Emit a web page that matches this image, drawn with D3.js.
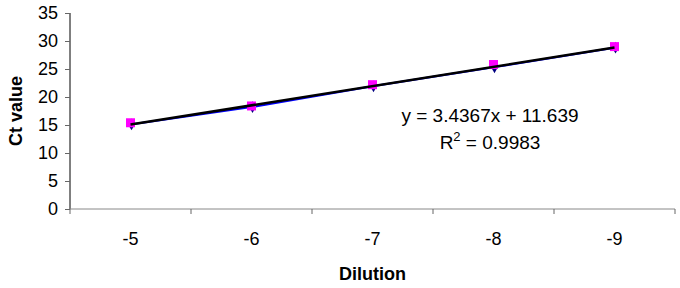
<!DOCTYPE html>
<html>
<head>
<meta charset="utf-8">
<script src="https://cdn.jsdelivr.net/npm/d3@7"></script>
<style>
  body { margin: 0; background: #fff; }
  text { font-family: Arial, "Liberation Sans", sans-serif; }
</style>
</head>
<body>
<svg id="drawing_region"></svg>
<script>
// data
const dilutions = ["-5", "-6", "-7", "-8", "-9"];
const ctBlue = [15.1, 18.2, 21.9, 25.3, 28.8];
const ctMagenta = [15.4, 18.4, 22.2, 25.8, 29.0];
const yTicks = [0, 5, 10, 15, 20, 25, 30, 35];
const slope = 3.4367, intercept = 11.639;
const equationText = "y = 3.4367x + 11.639";
const r2Text = "0.9983";

const width = 680, height = 288;
const margin = {top: 13, right: 5, bottom: 79, left: 70};

const svg = d3.select('#drawing_region')
    .attr('width', width)
    .attr('height', height);

const chart = svg.append('g')
    .attr('transform', `translate(${margin.left}, ${margin.top})`);

const inner_width = width - margin.left - margin.right;
const inner_height = height - margin.top - margin.bottom;

const xScale = d3.scaleBand()
    .domain(dilutions)
    .range([0, inner_width]);

const yScale = d3.scaleLinear()
    .domain([0, 35])
    .range([inner_height, 0]);

// position of category i (1-based like Excel) as a number
const xNum = d3.scaleLinear()
    .domain([1, dilutions.length])
    .range([xScale(dilutions[0]) + xScale.bandwidth() / 2,
            xScale(dilutions[dilutions.length - 1]) + xScale.bandwidth() / 2]);

// y axis
const yAxis = d3.axisLeft(yScale).tickValues(yTicks).tickSize(5).tickPadding(7);
const yg = chart.append('g').call(yAxis);
yg.select('.domain').attr('stroke', '#000').attr('d', `M0,0V${inner_height}`);
yg.selectAll('.tick line').attr('stroke', '#666');
yg.selectAll('.tick text').style('font-size', '18px').attr('fill', '#000');

// x axis
const xAxis = d3.axisBottom(xScale).tickSize(0).tickPadding(23);
const xg = chart.append('g')
    .attr('transform', `translate(0, ${inner_height})`)
    .call(xAxis);
xg.select('.domain').attr('stroke', '#888').attr('d', `M0,0H${inner_width}`);
xg.selectAll('.tick text').style('font-size', '18px').attr('fill', '#000');
// tick marks on category boundaries
chart.selectAll('.xbound')
    .data(d3.range(dilutions.length + 1))
    .enter()
    .append('line')
    .attr('x1', i => i * xScale.bandwidth())
    .attr('x2', i => i * xScale.bandwidth())
    .attr('y1', inner_height)
    .attr('y2', inner_height + 5)
    .attr('stroke', '#666');

// axis titles
svg.append('text')
    .attr('transform', `translate(22, ${margin.top + inner_height / 2}) rotate(-90)`)
    .attr('text-anchor', 'middle')
    .style('font-size', '18px')
    .style('font-weight', 'bold')
    .text('Ct value');

svg.append('text')
    .attr('x', margin.left + inner_width / 2)
    .attr('y', 280)
    .attr('text-anchor', 'middle')
    .style('font-size', '18px')
    .style('font-weight', 'bold')
    .text('Dilution');

// blue series line
const line = d3.line()
    .x((d, i) => xScale(dilutions[i]) + xScale.bandwidth() / 2)
    .y(d => yScale(d));

chart.append('path')
    .datum(ctBlue)
    .attr('d', line)
    .attr('fill', 'none')
    .attr('stroke', '#0000ff')
    .attr('stroke-width', 2);

// blue diamonds
chart.selectAll('.diamond')
    .data(ctBlue)
    .enter()
    .append('path')
    .attr('d', d3.symbol().type(d3.symbolDiamond).size(40))
    .attr('transform', (d, i) => `translate(${xScale(dilutions[i]) + xScale.bandwidth() / 2 + 1}, ${yScale(d)})`)
    .attr('fill', '#000080');

// magenta squares
chart.selectAll('.square')
    .data(ctMagenta)
    .enter()
    .append('rect')
    .attr('x', (d, i) => xScale(dilutions[i]) + xScale.bandwidth() / 2 - 4.5)
    .attr('y', d => yScale(d) - 4.5)
    .attr('width', 9)
    .attr('height', 9)
    .attr('fill', '#ff00ff');

// linear trend line
chart.append('line')
    .attr('x1', xNum(1))
    .attr('y1', yScale(slope * 1 + intercept))
    .attr('x2', xNum(dilutions.length))
    .attr('y2', yScale(slope * dilutions.length + intercept))
    .attr('stroke', '#000')
    .attr('stroke-width', 2.5);

// equation labels
svg.append('text')
    .attr('x', 490)
    .attr('y', 122)
    .attr('text-anchor', 'middle')
    .style('font-size', '19px')
    .text(equationText);

const r2 = svg.append('text')
    .attr('x', 490)
    .attr('y', 149)
    .attr('text-anchor', 'middle')
    .style('font-size', '19px');
r2.append('tspan').text('R');
r2.append('tspan').attr('dy', -8).style('font-size', '13px').text('2');
r2.append('tspan').attr('dy', 8).text(' = ' + r2Text);
</script>
</body>
</html>
